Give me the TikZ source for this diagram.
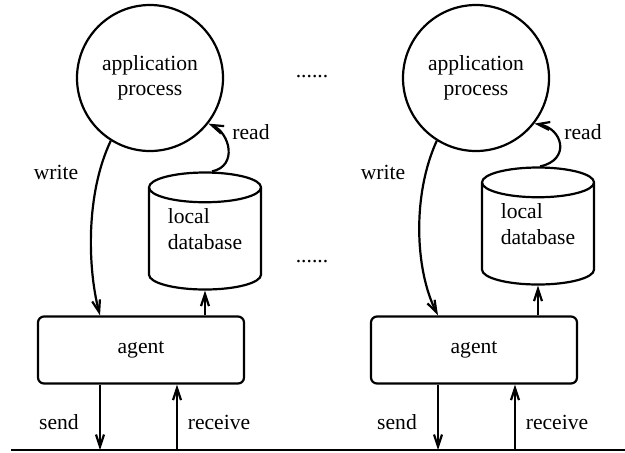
\documentclass[tikz,border=0pt]{standalone}
\usepackage{fontspec}
\setmainfont{Liberation Serif}
\newfontfamily\diagfont{Liberation Serif}
\usetikzlibrary{positioning,shapes.geometric,arrows.meta}

\begin{document}
\begin{tikzpicture}[
            x=0.5pt, y=-0.5pt,
            font=\diagfont\fontsize{10.8}{12.6}\selectfont,
            process/.style={circle, draw, line width=1.1pt, minimum size=73pt, inner sep=0pt, align=center},
            store/.style={cylinder, shape border rotate=90, draw, line width=1.1pt, aspect=0.4,
                          minimum width=56pt, minimum height=58.5pt, inner sep=0pt, align=left,
                          text depth=10pt, anchor=shape center},
            agentbox/.style={rectangle, rounded corners=3pt, draw, line width=1.1pt,
                             minimum width=103pt, minimum height=33.5pt},
            flow/.style={draw, line width=1.1pt, -{Straight Barb[length=6pt,width=4pt]}},
            tag/.style={inner sep=1pt},
            bus/.style={draw, line width=1.4pt}
        ]
        \useasboundingbox (0,0) rectangle (625,452);

        % Left site
        \node[process] (app1) at (150,78) {application\\process};
        \node[store] (db1) at (205,231) {local\\database};
        \node[agentbox] (agent1) at (141,350) {agent};

        % Right site
        \node[process] (app2) at (476,78) {application\\process};
        \node[store] (db2) at (538,226) {local\\database};
        \node[agentbox] (agent2) at (474,350) {agent};

        % Dots between sites
        \node[tag] (dots_top) at (312,77) {......};
        \node[tag] (dots_mid) at (312,262) {......};

        % Network line
        \coordinate (bus_l) at (11,450);
        \coordinate (bus_r) at (625,450);
        \coordinate (tx1) at (100,450);
        \coordinate (rx1) at (177,450);
        \coordinate (tx2) at (438,450);
        \coordinate (rx2) at (515,450);
        \draw[bus] (bus_l) -- (bus_r);

        % Labels
        \node[tag] (write1) at (56,172) {write};
        \node[tag] (read1) at (251,132) {read};
        \node[tag] (send1) at (59,422) {send};
        \node[tag] (recv1) at (219,422) {receive};
        \node[tag] (write2) at (383,172) {write};
        \node[tag] (read2) at (583,132) {read};
        \node[tag] (send2) at (397,422) {send};
        \node[tag] (recv2) at (557,422) {receive};

        \draw[flow] ([xshift=3.5pt]db1.top) .. controls (238,166) and (230,133) .. (app1.-38);
        \draw[flow] (app1.238) .. controls (85,195) and (88,270) .. (agent1.north -| tx1);
        \draw[flow] (agent1.north -| db1) -- (db1.bottom);
        \draw[flow] (agent1.south -| tx1) -- (tx1);
        \draw[flow] (rx1) -- (rx1 |- agent1.south);

        \draw[flow] ([xshift=1pt]db2.top) .. controls (571,160) and (563,128) .. (app2.-38);
        \draw[flow] (app2.238) .. controls (412,195) and (415,270) .. (agent2.north -| tx2);
        \draw[flow] (agent2.north -| db2) -- (db2.bottom);
        \draw[flow] (agent2.south -| tx2) -- (tx2);
        \draw[flow] (rx2) -- (rx2 |- agent2.south);

    \end{tikzpicture}
\end{document}
